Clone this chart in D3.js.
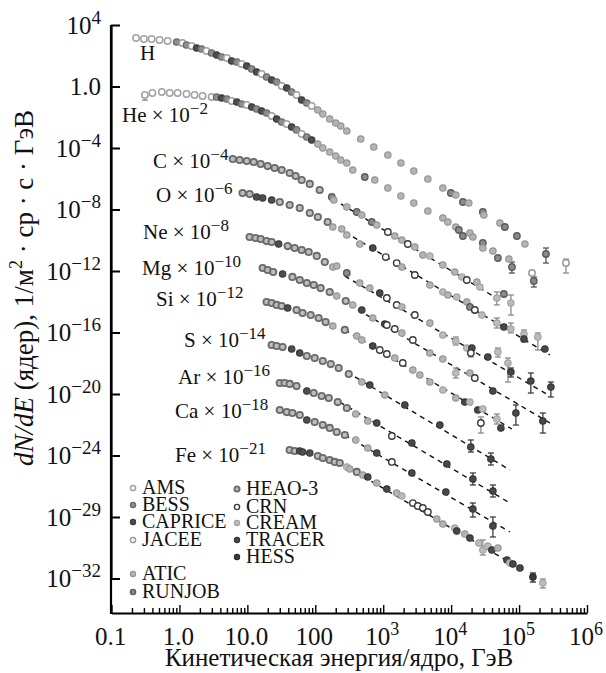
<!DOCTYPE html>
<html>
<head>
<meta charset="utf-8">
<script src="https://cdn.jsdelivr.net/npm/d3@7"></script>
<style>
  body { margin: 0; background: #fff; }
  svg text { font-family: "Liberation Serif", "Times New Roman", serif; fill: #111; }
</style>
</head>
<body>
<svg id="chart" width="606" height="673"></svg>
<script>
// Experiments (legend order)
const experiments = ["AMS", "BESS", "CAPRICE", "JACEE", "ATIC", "RUNJOB", "HEAO-3", "CRN", "CREAM", "TRACER", "HESS"];
const [AMS, BESS, CAPRICE, JACEE, ATIC, RUNJOB, HEAO, CRN, CREAM, TRACER, HESS] = experiments;

// Nuclei and the factor each spectrum is multiplied by (power of ten)
const elements = ["H", "He", "C", "O", "Ne", "Mg", "Si", "S", "Ar", "Ca", "Fe"];
const scaleExponents = [0, -2, -4, -6, -8, -10, -12, -14, -16, -18, -21];

// Spectra: [kinetic energy per nucleon (GeV), scaled flux, experiment, err low, err high]
const fluxH = [
  [0.23,1.43e3,AMS],[0.30,1.23e3,AMS],[0.39,1.23e3,AMS],[0.51,1.06e3,AMS],[0.67,910,AMS],
  [0.91,783,BESS],[1.11,675,AMS],[1.27,500,BESS],[1.51,431,AMS],[1.79,319,CAPRICE],[2.12,275,BESS],
  [2.5,204,AMS],[2.98,151,BESS],[3.53,112,CAPRICE],[4.18,83,BESS],[5.0,71,AMS],[5.87,45.6,CAPRICE],
  [7.0,39.2,BESS],[8.24,29.1,AMS],[9.8,21.5,CAPRICE],[11.6,13.7,BESS],[13.7,8.77,CAPRICE],[16.2,6.5,AMS],
  [19.2,4.15,BESS],[22.8,2.65,CAPRICE],[27,1.96,BESS],[32,1.08,AMS],[38,0.80,CAPRICE],[44.9,0.439,BESS],
  [53,0.280,AMS],[63,0.132,CAPRICE],[75,0.0845,BESS],[88.5,0.054,AMS],[109,0.0296,ATIC],[129,0.0163,ATIC],
  [163,7.7e-3,ATIC],[200,4.2e-3,ATIC],[237,2.7e-3,ATIC],[291,1.28e-3,ATIC],[467,3.85e-4,ATIC],
  [726,1.16e-4,ATIC],[1170,3.5e-5,ATIC],[1820,1.06e-5,ATIC],[2820,3.2e-6,ATIC],[4540,9.6e-7,ATIC],
  [7550,2.5e-7,ATIC],[9900,1.18e-7,RUNJOB],[1.17e4,8.8e-8,ATIC],[1.49e4,3.08e-8,RUNJOB],[1.82e4,2.65e-8,ATIC],
  [2.93e4,6.9e-9,RUNJOB],[3.03e4,4.4e-9,ATIC],[5.22e4,1.32e-9,ATIC],[6.18e4,7.3e-10,RUNJOB],
  [9.29e4,1.89e-10,RUNJOB],[1.22e5,5.7e-11,ATIC],[2.49e5,1.28e-11,RUNJOB,3.3e-12,3.13e-11],
  [4.9e5,3.3e-12,JACEE,7.4e-13,6.0e-12]
];
const fluxHe = [
  [0.31,0.28,AMS,0.13,0.28],[0.40,0.378,AMS],[0.55,0.439,AMS],[0.72,0.378,AMS],[0.94,0.378,AMS],
  [1.27,0.325,AMS],[1.67,0.28,AMS],[2.19,0.241,AMS],[2.98,0.207,AMS],
  [3.53,0.207,BESS],[4.18,0.179,CAPRICE],[5.0,0.154,BESS],[5.87,0.114,AMS],[7.0,0.098,CAPRICE],
  [8.24,0.0728,BESS],[9.8,0.0626,AMS],[11.6,0.0464,CAPRICE],[13.7,0.0344,BESS],[16.2,0.0255,CAPRICE],
  [19.2,0.0189,BESS],[22.8,0.0121,AMS],[27,7.7e-3,CAPRICE],[32,4.9e-3,BESS],[38,3.64e-3,AMS],
  [44.9,2.3e-3,CAPRICE],[53,1.5e-3,BESS],[63,8.1e-4,AMS],[75,5.2e-4,BESS],[88.5,3.3e-4,CAPRICE],
  [109,1.82e-4,ATIC],[129,1.0e-4,ATIC],[163,5.5e-5,ATIC],[200,3.0e-5,ATIC],[237,1.66e-5,ATIC],
  [291,1.06e-5,ATIC],[356,3.7e-6,ATIC],[535,1.3e-6,RUNJOB],[751,8.3e-7,ATIC],[1170,2.5e-7,ATIC],
  [1820,7.6e-8,ATIC],[2820,2.65e-8,ATIC],[4540,8.0e-9,ATIC],[7550,2.8e-9,ATIC],[8940,1.54e-9,ATIC],
  [1.17e4,7.3e-10,ATIC],[1.30e4,4.65e-10,RUNJOB],[1.49e4,1.89e-10,RUNJOB],[1.89e4,2.96e-10,ATIC],
  [2.09e4,1.63e-10,ATIC],[2.93e4,6.6e-11,RUNJOB],[2.93e4,3.13e-11,ATIC],[4.12e4,2.0e-11,ATIC],
  [4.88e4,7.0e-12,RUNJOB],[7.08e4,6.0e-12,ATIC],[7.85e4,1.82e-12,RUNJOB,7.4e-13,3.85e-12],
  [1.55e5,7.4e-13,JACEE],[1.65e5,2.24e-13,RUNJOB,9.1e-14,4.1e-13]
];
const fluxC = [
  [6.1,1.93e-5,HEAO],[7.7,1.66e-5,HEAO],[9.8,1.43e-5,HEAO],[12.4,1.23e-5,HEAO],[15.7,9.1e-6,HEAO],
  [19.9,6.7e-6,HEAO],[25.2,5.0e-6,HEAO],[32,3.7e-6,HEAO],[42,2.37e-6,HEAO],[51.4,1.51e-6,HEAO],
  [63,8.3e-7,HEAO],[83,4.6e-7,HEAO],[116,1.85e-7,HEAO],[175,6.5e-8,RUNJOB],[187,4.15e-8,ATIC],
  [291,1.46e-8,ATIC],[408,6.9e-9,RUNJOB],[484,4.4e-9,ATIC],[678,1.54e-9,RUNJOB],[803,9.8e-10,ATIC],
  [1170,3.44e-10,CRN],[1480,1.89e-10,ATIC],[1880,1.04e-10,ATIC],[2300,5.7e-11,CRN],[2920,3.64e-11,ATIC],
  [3830,1.10e-11,ATIC],[4860,9.5e-12,CREAM],[7550,2.45e-12,ATIC],[1.13e4,8.6e-13,ATIC],[1.44e4,4.1e-13,CREAM],
  [1.70e4,2.6e-13,CRN],[2.39e4,1.93e-13,ATIC],[2.65e4,9.1e-14,CREAM],[4.71e4,1.75e-14,CREAM,6.2e-15,4.3e-14],
  [5.98e4,3.2e-14,RUNJOB],[7.58e4,8.3e-15,CREAM,1.37e-15,2.75e-14]
];
const fluxO = [
  [8.5,1.18e-7,HEAO],[10.8,1.02e-7,HEAO],[13.7,6.5e-8,CAPRICE],[16.8,5.6e-8,CAPRICE],[22.8,4.15e-8,CAPRICE],
  [30,3.08e-8,HEAO],[42,1.96e-8,HEAO],[59,1.25e-8,HEAO],[83,5.9e-9,HEAO],[109,3.25e-9,HEAO],
  [152,1.54e-9,HEAO],[181,7.3e-10,ATIC],[245,5.4e-10,ATIC],[291,2.19e-10,ATIC],[452,5.7e-11,ATIC],
  [702,3.13e-11,TRACER],[1090,8.1e-12,CRN],[1580,3.3e-12,CRN],[1880,1.82e-12,ATIC],[2920,5.5e-13,CRN],
  [4860,1.23e-13,ATIC],[7550,4.3e-14,CREAM],[8940,2.75e-14,ATIC],[1.21e4,2.04e-14,CREAM],[1.70e4,9.6e-15,ATIC],
  [1.89e4,4.6e-15,RUNJOB],[2.23e4,2.9e-15,CRN],[2.83e4,1.37e-15,CREAM],[4.71e4,4.15e-16,CREAM,1.96e-16,8.8e-16],
  [5.98e4,2.28e-16,TRACER],[7.58e4,1.69e-16,CREAM,9.3e-17,4.15e-16],[1.18e5,8.0e-17,CREAM,2.41e-17,1.46e-16],
  [1.18e5,3.8e-17,TRACER,2.8e-17,5.1e-17],[1.89e5,5.1e-17,CREAM,7.3e-18,9.3e-17],[2.40e5,8.5e-18,TRACER]
];
const fluxNe = [
  [10.8,1.63e-10,HEAO],[13.2,1.40e-10,HEAO],[15.7,1.20e-10,HEAO],[19.2,8.9e-11,HEAO],[22.8,7.7e-11,HEAO],
  [28.9,5.7e-11,CAPRICE],[39.2,4.2e-11,HEAO],[49.7,3.13e-11,HEAO],[63,2.32e-11,HEAO],[80,1.72e-11,HEAO],
  [105,9.5e-12,HEAO],[138,3.85e-12,HEAO],[181,1.82e-12,ATIC],[207,2.11e-12,ATIC],[291,7.4e-13,RUNJOB],
  [452,1.66e-13,ATIC],[634,7.8e-14,ATIC],[889,3.7e-14,TRACER],[1130,1.75e-14,CRN],[1580,6.2e-15,CRN],
  [1880,4.6e-15,ATIC],[2920,1.37e-15,CRN],[4860,4.15e-16,ATIC],[7550,6.9e-17,CREAM],
  [1.17e4,2.8e-17,CREAM,1.54e-17,5.1e-17],[1.70e4,9.8e-18,CREAM],[2.02e4,9.8e-18,TRACER],
  [1.95e4,4.65e-18,CRN,2.55e-18,4.65e-18],[3.47e4,2.55e-18,TRACER],[4.88e4,5.4e-18,CREAM,2.55e-18,9.8e-18],
  [6.85e4,1.04e-18,CREAM,6.0e-20,2.19e-18],[7.58e4,2.7e-19,TRACER,1.28e-19,4.9e-19],
  [1.49e5,7.0e-20,TRACER,1.16e-20,2.32e-19],[2.94e5,2.85e-20,TRACER,6.4e-21,6.0e-20]
];
const fluxMg = [
  [16.8,1.57e-12,HEAO],[19.9,1.16e-12,HEAO],[24,8.6e-13,HEAO],[33,6.4e-13,CAPRICE],[46,4.1e-13,HEAO],
  [59,2.6e-13,HEAO],[75,1.66e-13,HEAO],[94.8,1.23e-13,HEAO],[120,7.8e-14,HEAO],[163,4.3e-14,HEAO],
  [207,2.37e-14,ATIC],[281,1.12e-14,HEAO],[356,6.2e-15,ATIC],[484,2.9e-15,TRACER],[702,8.8e-16,ATIC],
  [1054,3.57e-16,TRACER],[1130,3.08e-16,CRN],[1480,1.69e-16,CRN],[1880,9.3e-17,ATIC],[2730,3.25e-17,CRN],
  [4860,4.65e-18,ATIC],[7550,1.89e-18,ATIC],[1.17e4,2.32e-19,CREAM,1.10e-19,4.9e-19],[1.89e4,2.32e-19,ATIC],
  [2.23e4,1.10e-19,CRN],[4.12e4,1.57e-20,TRACER],[8.98e4,5.8e-22,TRACER,9.6e-23,1.93e-21],
  [2.24e5,1.75e-22,TRACER,2.9e-23,5.8e-22]
];
const fluxSi = [
  [19.2,9.6e-15,HEAO],[22.8,8.3e-15,HEAO],[27,6.2e-15,HEAO],[32,5.3e-15,HEAO],[39.2,3.9e-15,CAPRICE],
  [53,2.9e-15,HEAO],[65,1.85e-15,HEAO],[85.6,1.37e-15,HEAO],[112,8.8e-16,HEAO],[142,4.8e-16,HEAO],
  [181,2.65e-16,ATIC],[272,1.46e-16,HEAO],[408,5.9e-17,ATIC],[484,3.25e-17,ATIC],[702,1.32e-17,TRACER],
  [889,7.3e-18,CRN],[1130,4.0e-18,CRN],[1480,2.19e-18,ATIC],[1940,1.04e-18,CRN],[2730,3.64e-19,ATIC],
  [3460,1.72e-19,ATIC],[4860,6.0e-20,ATIC],[7550,1.82e-20,CREAM],[1.17e4,5.5e-21,ATIC],[1.59e4,3.0e-21,TRACER],
  [1.89e4,3.0e-21,CREAM],[2.47e4,9.1e-22,TRACER],[2.93e4,1.06e-21,CREAM],[2.74e4,1.30e-22,CRN,2.9e-23,3.2e-22],
  [4.71e4,2.37e-22,CREAM,1.12e-22,5.0e-22],[5.40e4,6.2e-23,TRACER]
];
const fluxS = [
  [22.8,1.54e-17,HEAO],[27,1.32e-17,HEAO],[33,1.14e-17,HEAO],[44.9,8.5e-18,CAPRICE],[59,4.65e-18,CAPRICE],
  [75,2.96e-18,HEAO],[98,2.19e-18,HEAO],[129,1.40e-18,HEAO],[169,8.9e-19,HEAO],[221,4.9e-19,HEAO],
  [311,2.0e-19,HEAO],[484,6.0e-20,ATIC],[634,3.85e-20,TRACER],[1054,8.6e-21,ATIC],[2080,1.93e-21,TRACER],
  [6820,9.6e-23,TRACER],[1.95e4,3.57e-24,TRACER,1.69e-24,1.02e-23],[3.85e4,5.9e-25,TRACER,2.41e-25,1.46e-24]
];
const fluxAr = [
  [30,5.2e-20,HEAO],[35.4,5.2e-20,HEAO],[42,4.5e-20,HEAO],[53,3.3e-20,HEAO],[75,1.57e-20,CAPRICE],
  [94.8,1.16e-20,HEAO],[124,7.4e-21,HEAO],[158,5.5e-21,HEAO],[214,3.0e-21,HEAO],[291,1.23e-21,HEAO],
  [394,5.0e-22,ATIC],[592,1.75e-22,ATIC],[803,1.30e-22,TRACER],[1340,1.85e-23,CRN],[2640,6.5e-24,TRACER],
  [8650,2.8e-25,TRACER],[2.09e4,2.96e-26,TRACER,1.21e-26,7.3e-26],[4.12e4,4.9e-27,TRACER,2.0e-27,1.21e-26]
];
const fluxCa = [
  [30,9.1e-22,HEAO],[38,6.7e-22,HEAO],[46,5.8e-22,HEAO],[59,4.3e-22,HEAO],[75,2.04e-22,CAPRICE],
  [98,1.51e-22,HEAO],[129,9.6e-23,HEAO],[163,6.2e-23,HEAO],[207,3.37e-23,HEAO],[272,2.15e-23,HEAO],
  [394,1.02e-23,ATIC],[592,3.08e-24,ATIC],[803,1.46e-24,TRACER],[1340,3.8e-25,CRN],[2640,7.3e-26,TRACER],
  [8360,4.2e-27,TRACER],[2.09e4,3.3e-28,TRACER,1.0e-28,8.1e-28],[4.12e4,2.6e-29,TRACER,5.0e-30,1.0e-28]
];
const fluxFe = [
  [42,2.28e-24,HEAO],[49.7,1.96e-24,HEAO],[59,1.96e-24,CAPRICE],[65,1.69e-24,CAPRICE],[83,1.46e-24,CAPRICE],
  [109,9.3e-25,HEAO],[129,6.9e-25,HEAO],[163,5.1e-25,HEAO],[193,3.8e-25,HEAO],[229,3.25e-25,HEAO],
  [291,1.79e-25,CREAM],[321,1.32e-25,ATIC],[408,8.5e-26,HEAO],[500,5.4e-26,ATIC],[592,4.0e-26,TRACER],
  [803,1.63e-26,ATIC],[1130,6.6e-27,TRACER],[1580,3.64e-27,ATIC],[1880,2.32e-27,CREAM],[2730,8.1e-28,CRN],
  [3230,5.2e-28,CRN],[3830,3.85e-28,CRN],[4540,2.11e-28,CRN],[6150,7.4e-29,ATIC],[7550,3.5e-29,ATIC],
  [1.13e4,1.93e-29,CREAM],[1.21e4,1.23e-29,TRACER],[1.59e4,7.8e-30,ATIC],[1.89e4,4.3e-30,TRACER],
  [2.56e4,2.04e-30,CREAM],[2.93e4,7.1e-31,CREAM,3.37e-31,3.2e-30],[3.47e4,1.30e-30,CREAM],[3.98e4,7.1e-31,TRACER],
  [4.88e4,9.6e-31,ATIC],[6.62e4,1.60e-31,TRACER],[7.33e4,1.02e-31,CREAM],[8.12e4,8.8e-32,TRACER],
  [1.03e5,4.8e-32,TRACER],[1.60e5,1.25e-32,HESS,5.9e-33,2.28e-32],[2.24e5,5.1e-33,CREAM,2.41e-33,9.3e-33]
];
const spectra = [fluxH, fluxHe, fluxC, fluxO, fluxNe, fluxMg, fluxSi, fluxS, fluxAr, fluxCa, fluxFe];

// Power-law fits (dashed): [E, flux] at the start and end of each line
const fitElements = ["C", "O", "Ne", "Mg", "Si", "S", "Ar", "Ca", "Fe"];
const fitStart = [[181,4.8e-8],[272,3.44e-10],[272,4.7e-13],[321,6.2e-15],[272,1.46e-16],[291,2.7e-19],[229,3.0e-21],[272,2.15e-23],[291,1.79e-25]];
const fitEnd = [[5.78e4,9.6e-15],[2.85e5,3.44e-18],[2.85e5,7.4e-21],[2.85e5,1.30e-22],[7.85e4,5.3e-23],[7.33e4,1.14e-25],[7.33e4,8.1e-28],[7.33e4,1.06e-29],[1.14e5,3.57e-32]];

// Axis ticks
const xTickValues = [0.1, 1, 10, 100, 1e3, 1e4, 1e5, 1e6];
const xTickLabels = [["0.1",""],["1.0",""],["10.0",""],["100",""],["10","3"],["10","4"],["10","5"],["10","6"]];
const yTickValues = [1e4, 1, 1e-4, 1e-8, 1e-12, 1e-16, 1e-20, 1e-24, 1e-28, 1e-32];
const yTickLabels = [["10","4"],["1.0",""],["10","−4"],["10","−8"],["10","−12"],["10","−16"],["10","−20"],["10","−24"],["10","−29"],["10","−32"]];

// ---- drawing ----
const svg = d3.select("#chart");
const x = d3.scaleLog().domain([0.1, 1e6]).range([111.5, 587]);
const y = d3.scaleLog().domain([1e-32, 1e4]).range([578.5, 25]);
const axisY = 613;

const markerStyle = {
  "AMS":     { fill: "#ffffff", stroke: "#a2a2a2", sw: 1.5 },
  "BESS":    { fill: "#8e8e8e", stroke: "#6a6a6a", sw: 1.3 },
  "CAPRICE": { fill: "#4e4e4e", stroke: "#3c3c3c", sw: 1.2 },
  "JACEE":   { fill: "#ffffff", stroke: "#9a9a9a", sw: 1.5 },
  "ATIC":    { fill: "#b4b4b4", stroke: "#969696", sw: 1.2 },
  "RUNJOB":  { fill: "#8a8a8a", stroke: "#5c5c5c", sw: 1.4 },
  "HEAO-3":  { fill: "#bdbdbd", stroke: "#6a6a6a", sw: 1.8 },
  "CRN":     { fill: "#ffffff", stroke: "#3a3a3a", sw: 1.4 },
  "CREAM":   { fill: "#bcbcbc", stroke: "#a4a4a4", sw: 1.2 },
  "TRACER":  { fill: "#484848", stroke: "#363636", sw: 1.2 },
  "HESS":    { fill: "#3a3a3a", stroke: "#2a2a2a", sw: 1.2 }
};
const errColor = { "TRACER": "#3c3c3c", "HESS": "#2a2a2a", "RUNJOB": "#555", "CAPRICE": "#444" };

// dashed power-law fits
svg.append("g").selectAll("line").data(fitElements).join("line")
  .attr("x1", (d, i) => x(fitStart[i][0])).attr("y1", (d, i) => y(fitStart[i][1]))
  .attr("x2", (d, i) => x(fitEnd[i][0])).attr("y2", (d, i) => y(fitEnd[i][1]))
  .attr("stroke", "#111").attr("stroke-width", 1.4).attr("stroke-dasharray", "5,4.5");

// error bars
const withErr = spectra.flat().filter(p => p.length > 3);
const eb = svg.append("g").selectAll("g").data(withErr).join("g")
  .attr("stroke", p => errColor[p[2]] || "#8a8a8a").attr("stroke-width", 1.3);
eb.append("line").attr("x1", p => x(p[0])).attr("x2", p => x(p[0]))
  .attr("y1", p => y(p[4])).attr("y2", p => y(p[3]));
eb.append("line").attr("x1", p => x(p[0]) - 3).attr("x2", p => x(p[0]) + 3)
  .attr("y1", p => y(p[4])).attr("y2", p => y(p[4]));
eb.append("line").attr("x1", p => x(p[0]) - 3).attr("x2", p => x(p[0]) + 3)
  .attr("y1", p => y(p[3])).attr("y2", p => y(p[3]));

// data points
spectra.forEach(series => {
  svg.append("g").selectAll("circle").data(series).join("circle")
    .attr("cx", p => x(p[0])).attr("cy", p => y(p[1])).attr("r", 3.2)
    .attr("fill", p => markerStyle[p[2]].fill)
    .attr("stroke", p => markerStyle[p[2]].stroke)
    .attr("stroke-width", p => markerStyle[p[2]].sw);
});

// axes
const minorX = x.ticks().filter(v => Math.abs(Math.log10(v) - Math.round(Math.log10(v))) > 1e-6);
const gx = svg.append("g").attr("transform", `translate(0,${axisY})`);
gx.call(d3.axisBottom(x).tickValues(xTickValues).tickSizeInner(-8).tickSizeOuter(0).tickFormat(""));
gx.append("g").call(d3.axisBottom(x).tickValues(minorX).tickSizeInner(-5).tickSizeOuter(0).tickFormat(""))
  .call(g => g.select(".domain").remove());
gx.selectAll("text").remove();
gx.selectAll(".domain").attr("stroke-width", 2.2);
gx.selectAll(".tick line").attr("stroke-width", 1.4);

const gy = svg.append("g").attr("transform", "translate(111,0)");
gy.call(d3.axisLeft(y).tickValues(yTickValues).tickSizeInner(-9).tickSizeOuter(0).tickFormat(""));
gy.selectAll("text").remove();
gy.select(".domain").attr("stroke-width", 2.2);
gy.selectAll(".tick line").attr("stroke-width", 2);
svg.append("line").attr("x1", 111).attr("x2", 111).attr("y1", y(1e4)).attr("y2", axisY + 1.1)
  .attr("stroke", "#000").attr("stroke-width", 2.2);

// tick labels with superscripts
function supText(sel, base, sup, baseSize, supSize, rise) {
  sel.append("tspan").text(base).attr("font-size", baseSize);
  if (sup) sel.append("tspan").text(sup).attr("font-size", supSize).attr("dy", -rise);
}
yTickValues.forEach((v, i) => {
  const t = svg.append("text").attr("x", 101).attr("y", y(v) + 8.5).attr("text-anchor", "end");
  supText(t, yTickLabels[i][0], yTickLabels[i][1], 25, 19, 10);
});
xTickValues.forEach((v, i) => {
  const t = svg.append("text").attr("x", x(v) - 1).attr("y", 645).attr("text-anchor", "middle");
  supText(t, xTickLabels[i][0], xTickLabels[i][1], 25, 18, 10);
});

// axis titles
svg.append("text").attr("x", 339).attr("y", 666).attr("text-anchor", "middle")
  .attr("font-size", 25).text("Кинетическая энергия/ядро, ГэВ");
const yt = svg.append("text").attr("transform", "translate(33,288) rotate(-90)")
  .attr("text-anchor", "middle").attr("font-size", 27);
yt.append("tspan").attr("font-style", "italic").text("dN/dE");
yt.append("tspan").text(" (ядер), 1/м");
yt.append("tspan").attr("font-size", 18).attr("dy", -11).text("2");
yt.append("tspan").attr("dy", 11).text(" · ср · с · ГэВ");

// element labels
const labelPos = [[140,60],[122,122],[153,168],[156,202],[143,239],[142,275],[156,306],[184,347],[178,384],[175,418],[175,462]];
elements.forEach((el, i) => {
  const t = svg.append("text").attr("x", labelPos[i][0]).attr("y", labelPos[i][1]);
  const exp = scaleExponents[i];
  if (exp === 0) { t.attr("font-size", 21).text(el); return; }
  supText(t, `${el} × 10`, "−" + Math.abs(exp), 21, 17, 8);
});

// legend
const legendPos = [[133,488],[133,505],[133,522],[133,540],[133,574],[133,592],[237,489],[237,507],[237,523],[237,540],[237,557]];
experiments.forEach((ex, i) => {
  const [lx, ly] = legendPos[i];
  const s = markerStyle[ex];
  svg.append("circle").attr("cx", lx).attr("cy", ly).attr("r", 2.6)
    .attr("fill", s.fill).attr("stroke", s.stroke).attr("stroke-width", s.sw);
  svg.append("text").attr("x", lx + 9).attr("y", ly + 6).attr("font-size", 20).text(ex);
});
</script>
</body>
</html>
